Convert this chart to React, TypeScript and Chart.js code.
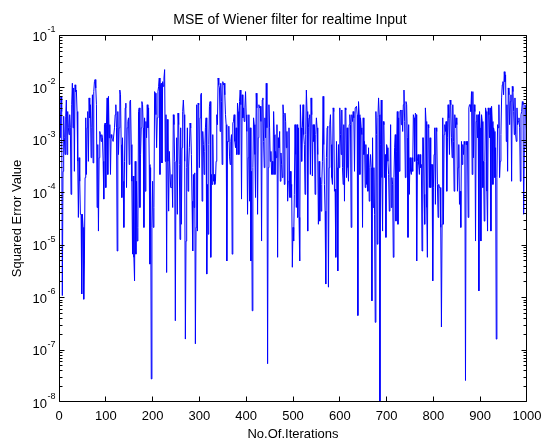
import React, { useEffect, useRef } from "react";
import { Chart, registerables } from "chart.js";

Chart.register(...registerables);

const TITLE = "MSE of Wiener filter for realtime Input";
const X_TITLE = "No.Of.Iterations";
const Y_TITLE = "Squared Error Value";
const X_MIN = 0;
const X_MAX = 1000;
const X_TICKS = [0, 100, 200, 300, 400, 500, 600, 700, 800, 900, 1000];
const Y_DECADES = [-8, -7, -6, -5, -4, -3, -2, -1];
const Y_MIN_EXP = -8;
const Y_MAX_EXP = -1;

const mseLog10Seg1 = [
  -3.22, -2.46, -2.96, -2.17, -2.46, -5.97, -3.6, -2.55, -2.96, -3.28,
  -2.55, -2.24, -3.28, -2.46, -2.77, -2.9, -2.52, -2.77, -4.04, -2.33,
  -1.92, -2.77, -2.01, -3.6, -1.95, -2.08, -2.05, -2.46, -3.41, -4.48,
  -3.34, -3.79, -4.42, -4.42, -5.94, -4.42, -4.67, -6.04, -5.31, -3.72,
  -2.58, -3.66, -2.77, -2.46, -3.41, -2.2, -2.58, -2.33, -3.34, -2.77,
  -2.14, -3.44, -2.08, -1.89, -1.85, -2.01, -2.33, -4.29, -3.09, -4.74,
  -3.34, -2.84, -2.9, -3.03, -2.9, -2.96, -3.41, -4.13, -2.71, -2.68,
  -3.91, -2.71, -2.2, -3.66, -2.17, -2.96, -2.71, -3.66, -2.9, -2.96,
  -2.99, -3.03, -3.03, -2.77,
];
const mseLog10Seg2 = [
  -2.52, -2.33, -2.77, -5.12, -2.46, -3.28, -2.77, -2.05, -2.14, -3.09,
  -4.1, -2.96, -3.79, -4.67, -3.41, -2.39, -2.3, -3.91, -2.77, -2.65,
  -2.58, -3.47, -2.27, -2.24, -3.09, -3.79, -5.18, -3.69, -5.24, -5.69,
  -3.41, -5.18, -3.79, -4.93, -4.67, -2.46, -2.39, -4.29, -3.28, -2.77,
  -2.27, -2.33, -2.77, -4.67, -2.58, -3.98, -2.65, -2.96, -2.33, -2.77,
  -2.39, -3.47, -5.37, -3.53, -7.56, -4.67, -3.79, -4.67, -4.29, -2.08,
  -2.11, -2.52, -3.15, -2.58, -2.08, -1.98, -1.82, -3.66, -1.95, -1.92,
  -3.44, -1.89, -1.98, -1.82, -1.66, -3.41, -2.52, -5.53, -2.61, -3.41,
  -4.36, -3.22, -3.22, -3.91, -3.91, -3.66, -4.29, -2.52, -2.71, -3.41,
];
const mseLog10Seg3 = [
  -6.45, -3.41, -2.96, -4.42, -2.49, -2.71, -3.47, -4.9, -2.77, -4.61,
  -3.15, -2.46, -2.24, -2.52, -3.41, -6.8, -4.93, -3.53, -2.77, -3.98,
  -3.5, -3.15, -2.68, -2.77, -3.28, -4.17, -5.12, -3.66, -4.29, -3.63,
  -6.89, -4.67, -2.33, -4.74, -2.3, -2.33, -3.53, -2.58, -2.14, -2.11,
  -4.17, -2.84, -3.09, -3.66, -3.22, -2.77, -2.58, -5.56, -3.85, -4.8,
  -3.09, -2.36, -2.27, -5.24, -3.66, -3.85, -2.9, -3.79, -3.66, -3.85,
  -3.79, -3.41, -2.52, -2.71, -1.82, -1.95, -2.01, -2.84, -1.92, -2.27,
  -3.47, -1.89, -1.95, -1.92, -2.14, -2.52, -2.71, -5.31, -3.03, -3.03,
  -2.74, -3.31, -3.47, -3.03, -2.9, -5.18, -2.68, -2.65, -2.52, -3.03,
];
const mseLog10Seg4 = [
  -3.15, -2.77, -3.28, -2.3, -2.46, -3.28, -2.27, -2.05, -2.33, -4.13,
  -2.14, -2.58, -2.39, -2.65, -2.39, -2.08, -2.52, -2.84, -4.42, -3.34,
  -2.52, -4.17, -2.77, -5.31, -3.6, -6.26, -3.53, -2.58, -2.71, -3.28,
  -4.1, -2.11, -2.39, -4.42, -2.96, -2.33, -2.39, -2.36, -2.65, -4.93,
  -2.24, -2.2, -3.03, -3.53, -2.58, -2.96, -1.92, -2.77, -7.27, -3.53,
  -2.33, -2.77, -3.41, -3.22, -3.66, -3.41, -3.66, -2.46, -2.9, -3.66,
  -3.22, -3.34, -2.71, -5.24, -2.96, -3.15, -2.84, -3.79, -3.25, -3.47,
  -3.72, -2.33, -2.52, -3.85, -2.49, -2.65, -3.15, -2.84, -4.17, -3.79,
  -2.77, -4.1, -3.6, -4.1, -3.85, -5.43, -4.67, -4.93, -4.04, -2.71,
];
const mseLog10Seg5 = [
  -3.28, -4.29, -2.71, -4.48, -2.77, -4.48, -5.31, -2.33, -2.77, -3.41,
  -2.77, -2.33, -2.9, -3.09, -4.04, -2.9, -2.05, -2.46, -4.74, -2.77,
  -2.58, -2.52, -3.66, -2.2, -2.52, -3.69, -2.71, -3.03, -2.71, -4.04,
  -2.9, -2.58, -2.77, -3.28, -4.61, -3.41, -4.55, -3.72, -4.36, -3.85,
  -3.41, -2.17, -3.09, -3.85, -4.36, -5.75, -3.34, -2.77, -2.74, -5.81,
  -3.53, -2.71, -2.52, -3.09, -3.72, -3.85, -2.39, -2.46, -3.98, -3.94,
  -5.24, -3.03, -3.53, -5.5, -3.09, -3.53, -2.39, -2.9, -3.28, -2.43,
  -3.53, -3.85, -2.71, -4.17, -2.39, -2.43, -3.72, -2.77, -3.53, -3.79,
  -2.71, -2.52, -2.71, -4.67, -2.52, -2.65, -2.46, -2.58, -3.6, -2.39,
];
const mseLog10Seg6 = [
  -2.39, -2.36, -2.52, -6.35, -2.27, -2.52, -3.66, -2.58, -2.77, -2.9,
  -4.67, -2.58, -3.28, -3.03, -3.91, -3.09, -3.85, -3.28, -3.98, -3.15,
  -4.17, -3.53, -3.28, -3.53, -6.07, -2.96, -4.29, -3.53, -4.42, -6.48,
  -2.46, -2.9, -4.99, -2.58, -2.2, -2.52, -8.1, -3.09, -2.24, -3.72,
  -4.74, -2.65, -2.71, -3.72, -3.28, -4.86, -3.09, -3.15, -3.41, -3.66,
  -4.36, -3.72, -2.71, -4.29, -3.72, -3.85, -5.24, -3.72, -3.15, -2.9,
  -4.55, -3.22, -2.46, -4.61, -2.58, -3.6, -2.46, -2.43, -2.71, -2.43,
  -2.84, -2.33, -2.05, -2.65, -3.72, -2.27, -2.33, -2.96, -4.86, -2.71,
  -4.04, -3.34, -3.6, -3.66, -3.34, -3.6, -2.52, -2.58, -3.41, -2.49,
];
const mseLog10Seg7 = [
  -2.52, -5.31, -3.41, -3.28, -3.47, -3.66, -3.28, -3.53, -3.47, -5.12,
  -2.96, -2.96, -4.04, -4.61, -2.39, -2.65, -4.29, -5.24, -2.71, -2.77,
  -3.91, -2.96, -3.91, -3.47, -3.47, -5.69, -3.91, -3.28, -2.77, -4.23,
  -2.77, -2.84, -3.85, -4.48, -3.85, -3.91, -3.91, -4.67, -6.57, -4.61,
  -2.58, -4.61, -2.9, -2.71, -2.84, -2.65, -3.98, -2.96, -2.33, -2.58,
  -3.28, -2.24, -2.33, -2.96, -3.34, -2.33, -3.03, -3.98, -2.52, -2.77,
  -2.58, -2.71, -3.98, -3.53, -3.09, -4.23, -3.98, -4.67, -3.03, -3.47,
  -3.09, -3.28, -3.03, -3.09, -7.59, -3.03, -3.09, -3.03, -4.48, -2.39,
  -2.33, -2.33, -2.46, -2.08,
];
const mseLog10Seg8 = [
  -3.66, -2.08, -3.34, -2.33, -2.46, -4.93, -2.65, -2.52, -2.96, -2.52,
  -5.88, -2.46, -2.77, -4.93, -2.52, -2.65, -3.91, -3.41, -4.55, -3.41,
  -2.39, -2.46, -3.98, -4.74, -2.39, -2.52, -2.96, -2.39, -4.74, -2.36,
  -2.65, -3.85, -2.77, -2.84, -3.72, -3.15, -6.8, -3.72, -2.71, -2.77,
  -2.33, -3.72, -3.41, -2.9, -2.2, -1.95, -1.89, -2.14, -1.7, -1.89,
  -1.76, -3.03, -2.33, -3.6, -2.01, -2.14, -2.71, -2.27, -2.14, -3.79,
  -1.98, -2.08, -2.46, -2.9, -2.2, -2.9, -3.03, -2.39, -2.71, -2.65,
  -2.58, -2.77, -3.79, -2.52, -2.46, -2.27, -2.33, -4.42, -3.15, -2.33,
  -2.39, -2.77, -2.96,
];

const FONT = '"Liberation Sans", Arial, Helvetica, sans-serif';
const LINE_COLOR = "#0000ff";

const matlabFrame = {
  id: "matlabFrame",
  afterDraw(chart: any) {
    const { ctx, chartArea: a } = chart;
    const xs = chart.scales.x;
    const ys = chart.scales.y;
    const L = Math.floor(a.left) + 0.5;
    const R = Math.floor(a.right) - 0.5;
    const T = Math.floor(a.top) + 0.5;
    const B = Math.floor(a.bottom) - 0.5;
    const clampX = (v: number) => Math.min(R, Math.max(L, v));
    const clampY = (v: number) => Math.min(B, Math.max(T, v));
    const MAJOR = 5;
    const MINOR = 3;
    ctx.save();
    ctx.strokeStyle = "#000";
    ctx.lineWidth = 1;
    ctx.beginPath();
    ctx.rect(L, T, R - L, B - T);
    for (const v of X_TICKS) {
      const px = clampX(Math.floor(xs.getPixelForValue(v)) + 0.5);
      ctx.moveTo(px, B);
      ctx.lineTo(px, B - MAJOR);
      ctx.moveTo(px, T);
      ctx.lineTo(px, T + MAJOR);
    }
    for (const e of Y_DECADES) {
      const mults = e < Y_MAX_EXP ? [1, 2, 3, 4, 5, 6, 7, 8, 9] : [1];
      for (const m of mults) {
        const py = clampY(Math.round(ys.getPixelForValue(m * Math.pow(10, e))) + 0.5);
        const len = m === 1 ? MAJOR : MINOR;
        ctx.moveTo(L, py);
        ctx.lineTo(L + len, py);
        ctx.moveTo(R, py);
        ctx.lineTo(R - len, py);
      }
    }
    ctx.stroke();

    ctx.fillStyle = "#000";
    ctx.textBaseline = "alphabetic";
    // x tick labels
    ctx.font = `13px ${FONT}`;
    ctx.textAlign = "center";
    for (const v of X_TICKS) {
      ctx.fillText(String(v), xs.getPixelForValue(v), a.bottom + 18);
    }
    // y tick labels 10^e
    for (const e of Y_DECADES) {
      const py = ys.getPixelForValue(Math.pow(10, e));
      ctx.font = `13px ${FONT}`;
      ctx.textAlign = "right";
      ctx.fillText("10", a.left - 12, py + 5.5);
      ctx.font = `9px ${FONT}`;
      ctx.textAlign = "left";
      ctx.fillText(String(e), a.left - 11.5, py - 3);
    }
    // title
    ctx.font = `14px ${FONT}`;
    ctx.textAlign = "center";
    ctx.fillText(TITLE, (a.left + a.right) / 2 - 3, 24);
    // x title
    ctx.font = `13px ${FONT}`;
    ctx.fillText(X_TITLE, (a.left + a.right) / 2, a.bottom + 36);
    // y title
    ctx.translate(21, (a.top + a.bottom) / 2);
    ctx.rotate(-Math.PI / 2);
    ctx.fillText(Y_TITLE, 0, 0);
    ctx.restore();
  },
};

export default function App() {
  const canvasRef = useRef<HTMLCanvasElement | null>(null);

  useEffect(() => {
    const canvas = canvasRef.current;
    if (!canvas) return;
    const mseLog10 = ([] as number[]).concat(
      mseLog10Seg1,
      mseLog10Seg2,
      mseLog10Seg3,
      mseLog10Seg4,
      mseLog10Seg5,
      mseLog10Seg6,
      mseLog10Seg7,
      mseLog10Seg8
    );
    const n = mseLog10.length;
    const points = mseLog10.map((e, i) => ({
      x: X_MIN + (i * (X_MAX - X_MIN)) / (n - 1),
      y: Math.pow(10, e),
    }));

    const chart = new Chart(canvas, {
      type: "line",
      data: {
        datasets: [
          {
            label: "MSE",
            data: points,
            borderColor: LINE_COLOR,
            backgroundColor: LINE_COLOR,
            borderWidth: 1,
            pointRadius: 0,
            tension: 0,
            fill: false,
            clip: 0,
          } as any,
        ],
      },
      options: {
        responsive: false,
        animation: false,
        devicePixelRatio: 1,
        layout: { padding: { left: 59, right: 14, top: 35, bottom: 38 } },
        plugins: {
          legend: { display: false },
          tooltip: { enabled: false },
          title: { display: false },
        },
        scales: {
          x: { type: "linear", min: X_MIN, max: X_MAX, display: false },
          y: {
            type: "logarithmic",
            min: Math.pow(10, Y_MIN_EXP),
            max: Math.pow(10, Y_MAX_EXP),
            display: false,
          },
        },
      },
      plugins: [matlabFrame],
    });
    return () => chart.destroy();
  }, []);

  return (
    <div
      style={{
        position: "fixed",
        left: 0,
        top: 0,
        width: 541,
        height: 440,
        background: "#ffffff",
      }}
    >
      <canvas ref={canvasRef} width={541} height={440} style={{ display: "block" }} />
    </div>
  );
}
